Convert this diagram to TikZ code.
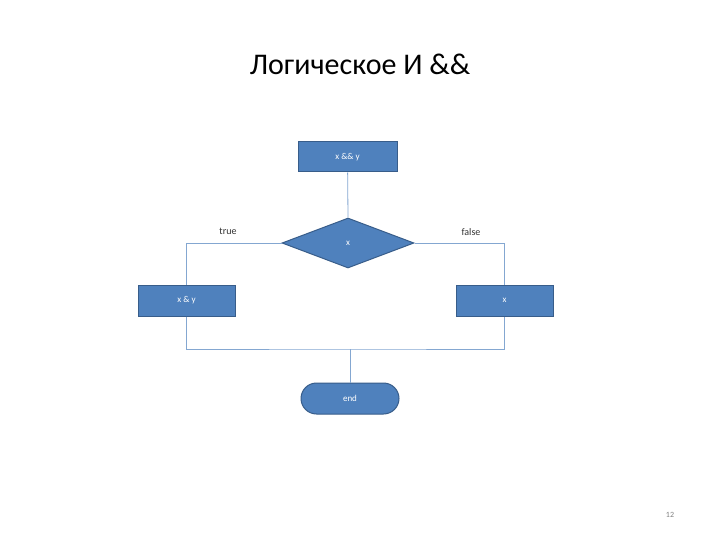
\documentclass[tikz,border=0pt]{standalone}
\usepackage{fontspec}
\setmainfont{Carlito}
\usetikzlibrary{shapes.geometric,shapes.misc}
\definecolor{fillb}{HTML}{4F81BD}
\definecolor{edgeb}{HTML}{385D8A}
\begin{document}
\begin{tikzpicture}[x=1pt,y=-1pt,
  blk/.style={draw=edgeb,fill=fillb,line width=1pt,text=white,font=\fontsize{9}{10}\selectfont,inner sep=0pt},
  conn/.style={draw=fillb!70,line width=0.8pt},
  lbl/.style={font=\fontsize{10}{12}\selectfont,text=black!80}]
\useasboundingbox (0,0) rectangle (720,540);
\fill[white] (0,0) rectangle (720,540);
\node[font=\fontsize{30}{36}\selectfont] (title) at (360,64) {Логическое И \&\&};
\node[font=\fontsize{8}{10}\selectfont,text=gray] (pg) at (670,515) {12};
\node[blk,minimum width=99pt,minimum height=30pt] (top) at (347.5,157) {x \&\& y};
\node[blk,diamond,aspect=2.64,minimum width=132pt,minimum height=50pt] (dec) at (348,243) {x};
\node[blk,minimum width=97pt,minimum height=31pt] (l) at (186.5,300.5) {x \& y};
\node[blk,minimum width=97pt,minimum height=31pt] (r) at (504.5,300.5) {x};
\node[blk,rounded rectangle,minimum width=98pt,minimum height=31pt] (e) at (350,398.5) {end};
\coordinate (m) at (350,349);
\draw[conn] (top) -- (dec.north);
\draw[conn] (dec.west) -| (l.north);
\draw[conn] (dec.east) -| (r.north);
\draw[conn] (l.south) |- (m) -| (r.south);
\draw[conn] (m) -- (e.north);
\node[lbl] (t) at (228,231) {true};
\node[lbl] (f) at (471,232) {false};
\end{tikzpicture}
\end{document}
